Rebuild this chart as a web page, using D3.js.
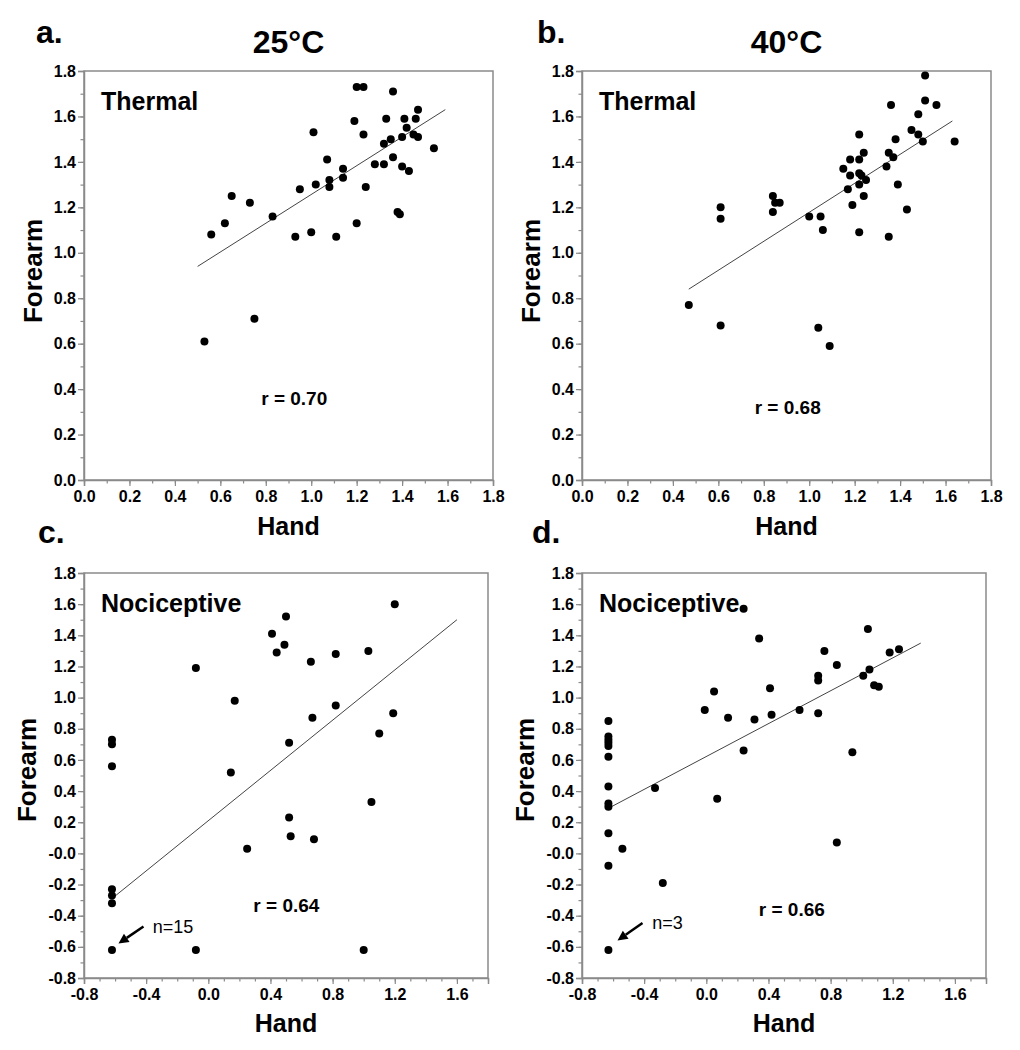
<!DOCTYPE html>
<html>
<head>
<meta charset="utf-8">
<script src="https://cdn.jsdelivr.net/npm/d3@7"></script>
<style>
  html, body { margin: 0; padding: 0; background: #ffffff; }
  text { font-family: "Liberation Sans", Arial, sans-serif; }
</style>
</head>
<body>
<script>
// ---------------- DATA ----------------
const panelLetters = ["a.", "b.", "c.", "d."];
const columnTitles = ["25\u00B0C", "40\u00B0C"];
const modalityLabels = ["Thermal", "Thermal", "Nociceptive", "Nociceptive"];
const rLabels = ["r = 0.70", "r = 0.68", "r = 0.64", "r = 0.66"];
const nLabels = ["n=15", "n=3"];
const xAxisTitle = "Hand";
const yAxisTitle = "Forearm";

// Panel a: Thermal, 25°C
const aHand =    [0.56,0.62,0.65,0.73,0.83,0.93,0.95,1.00,1.01,1.02,1.07,1.08,1.08,1.11,1.14,1.14,1.19,1.20,1.23,1.20,1.23,1.24,1.28,1.32,1.32,1.33,1.35,1.36,1.36,1.38,1.39,1.40,1.40,1.41,1.42,1.43,1.45,1.46,1.47,1.47,1.54,0.53,0.75];
const aForearm = [1.08,1.13,1.25,1.22,1.16,1.07,1.28,1.09,1.53,1.30,1.41,1.32,1.29,1.07,1.37,1.33,1.58,1.73,1.73,1.13,1.52,1.29,1.39,1.39,1.48,1.59,1.50,1.71,1.42,1.18,1.17,1.38,1.51,1.59,1.55,1.36,1.52,1.59,1.51,1.63,1.46,0.61,0.71];
const aFitHand = [0.50, 1.59];
const aFitForearm = [0.94, 1.63];

// Panel b: Thermal, 40°C
const bHand =    [0.61,0.61,0.84,0.84,0.85,0.87,1.00,1.05,1.06,1.15,1.17,1.18,1.18,1.19,1.22,1.22,1.22,1.22,1.22,1.23,1.24,1.24,1.25,1.34,1.35,1.35,1.36,1.37,1.38,1.39,1.43,1.45,1.48,1.48,1.50,1.51,1.51,1.56,1.64,0.47,0.61,1.04,1.09];
const bForearm = [1.20,1.15,1.25,1.18,1.22,1.22,1.16,1.16,1.10,1.37,1.28,1.41,1.34,1.21,1.52,1.41,1.35,1.30,1.09,1.34,1.44,1.25,1.32,1.38,1.07,1.44,1.65,1.42,1.50,1.30,1.19,1.54,1.61,1.52,1.49,1.78,1.67,1.65,1.49,0.77,0.68,0.67,0.59];
const bFitHand = [0.47, 1.63];
const bFitForearm = [0.84, 1.58];

// Panel c: Nociceptive, 25°C
const cHand =    [-0.62,-0.62,-0.62,-0.08,0.145,0.17,0.41,0.44,0.49,0.50,0.52,0.66,0.67,0.82,0.82,1.03,1.10,1.19,1.20,0.52,0.53,0.68,0.25,1.05,-0.62,-0.62,-0.62,-0.62,-0.08,1.00];
const cForearm = [0.73,0.70,0.56,1.19,0.52,0.98,1.41,1.29,1.34,1.52,0.71,1.23,0.87,1.28,0.95,1.30,0.77,0.90,1.60,0.23,0.11,0.09,0.03,0.33,-0.23,-0.27,-0.32,-0.62,-0.62,-0.62];
const cFitHand = [-0.62, 1.60];
const cFitForearm = [-0.29, 1.50];

// Panel d: Nociceptive, 40°C
const dHand =    [-0.63,-0.63,-0.63,-0.63,-0.63,-0.63,-0.63,-0.01,0.05,0.14,0.24,0.24,0.31,0.34,0.41,0.42,0.60,0.72,0.72,0.72,0.76,0.84,0.94,1.01,1.04,1.05,1.08,1.11,1.18,1.24,-0.33,-0.63,-0.63,0.07,-0.63,-0.54,0.84,-0.63,-0.28,-0.63];
const dForearm = [0.85,0.75,0.73,0.71,0.69,0.62,0.43,0.92,1.04,0.87,1.57,0.66,0.86,1.38,1.06,0.89,0.92,0.90,1.14,1.11,1.30,1.21,0.65,1.14,1.44,1.18,1.08,1.07,1.29,1.31,0.42,0.32,0.30,0.35,0.13,0.03,0.07,-0.08,-0.19,-0.62];
const dFitHand = [-0.61, 1.38];
const dFitForearm = [0.30, 1.35];

// Tick values and labels
const thermalTickValues = [0.0,0.2,0.4,0.6,0.8,1.0,1.2,1.4,1.6,1.8];
const thermalTickLabels = ["0.0","0.2","0.4","0.6","0.8","1.0","1.2","1.4","1.6","1.8"];
const nociXTickValues = [-0.8,-0.4,0.0,0.4,0.8,1.2,1.6];
const nociXTickLabels = ["-0.8","-0.4","0.0","0.4","0.8","1.2","1.6"];
const nociYTickValues = [-0.8,-0.6,-0.4,-0.2,0.0,0.2,0.4,0.6,0.8,1.0,1.2,1.4,1.6,1.8];
const nociYTickLabels = ["-0.8","-0.6","-0.4","-0.2","-0.0","0.2","0.4","0.6","0.8","1.0","1.2","1.4","1.6","1.8"];

// ---------------- DRAW ----------------
const W = 1020, H = 1050;
const svg = d3.select("body").append("svg").attr("width", W).attr("height", H);
const FONT = "'Liberation Sans', Arial, sans-serif";
const AXIS_COLOR = "#8a8a8a";

const panels = [
  { letter: panelLetters[0], title: columnTitles[0], label: modalityLabels[0], r: rLabels[0],
    hand: aHand, fore: aForearm, fitH: aFitHand, fitF: aFitForearm,
    left: 84, right: 493, top: 71, bottom: 480, dom: [0, 1.8],
    xt: thermalTickValues, xl: thermalTickLabels, yt: thermalTickValues, yl: thermalTickLabels,
    letterPos: [36, 43], rPos: [0.78, 0.33], yTitleX: 42, yTitleY: 271, xTitleY: 535 },
  { letter: panelLetters[1], title: columnTitles[1], label: modalityLabels[1], r: rLabels[1],
    hand: bHand, fore: bForearm, fitH: bFitHand, fitF: bFitForearm,
    left: 582, right: 991, top: 71, bottom: 480, dom: [0, 1.8],
    xt: thermalTickValues, xl: thermalTickLabels, yt: thermalTickValues, yl: thermalTickLabels,
    letterPos: [537, 43], rPos: [0.76, 0.29], yTitleX: 540, yTitleY: 271, xTitleY: 535 },
  { letter: panelLetters[2], title: null, label: modalityLabels[2], r: rLabels[2],
    hand: cHand, fore: cForearm, fitH: cFitHand, fitF: cFitForearm,
    left: 84, right: 488, top: 573, bottom: 978, dom: [-0.8, 1.8],
    xt: nociXTickValues, xl: nociXTickLabels, yt: nociYTickValues, yl: nociYTickLabels,
    letterPos: [38, 543], rPos: [0.29, -0.376], yTitleX: 36, yTitleY: 770, xTitleY: 1032,
    n: nLabels[0], nText: [152.7, 933], arrow: [[143.5, 926.5], [118.5, 943.5]] },
  { letter: panelLetters[3], title: null, label: modalityLabels[3], r: rLabels[3],
    hand: dHand, fore: dForearm, fitH: dFitHand, fitF: dFitForearm,
    left: 582, right: 986, top: 573, bottom: 978, dom: [-0.8, 1.8],
    xt: nociXTickValues, xl: nociXTickLabels, yt: nociYTickValues, yl: nociYTickLabels,
    letterPos: [532, 543], rPos: [0.338, -0.404], yTitleX: 534, yTitleY: 770, xTitleY: 1032,
    n: nLabels[1], nText: [652.3, 929.3], arrow: [[642.5, 923], [617.5, 940.5]] }
];

function minorTicks(dom) {
  const out = [];
  for (let i = Math.round(dom[0] * 10); i <= Math.round(dom[1] * 10); i++) out.push(i / 10);
  return out;
}

panels.forEach(p => {
  const g = svg.append("g");
  const x = d3.scaleLinear().domain(p.dom).range([p.left, p.right]);
  const y = d3.scaleLinear().domain(p.dom).range([p.bottom, p.top]);
  const cx = (p.left + p.right) / 2;

  // frame
  g.append("rect")
    .attr("x", p.left).attr("y", p.top)
    .attr("width", p.right - p.left).attr("height", p.bottom - p.top)
    .attr("fill", "none").attr("stroke", AXIS_COLOR).attr("stroke-width", 1.5);

  // minor ticks
  const minors = minorTicks(p.dom);
  const yMinor = g.append("g").attr("transform", `translate(${p.left},0)`)
    .call(d3.axisLeft(y).tickValues(minors).tickSize(3.5).tickFormat(""));
  const xMinor = g.append("g").attr("transform", `translate(0,${p.bottom})`)
    .call(d3.axisBottom(x).tickValues(minors).tickSize(3.5).tickFormat(""));
  [yMinor, xMinor].forEach(a => {
    a.select(".domain").remove();
    a.selectAll("line").attr("stroke", AXIS_COLOR).attr("stroke-width", 1.2);
  });

  // major ticks
  const yAx = g.append("g").attr("transform", `translate(${p.left},0)`)
    .call(d3.axisLeft(y).tickValues(p.yt).tickSize(6).tickPadding(2)
      .tickFormat((d, i) => p.yl[i]));
  const xAx = g.append("g").attr("transform", `translate(0,${p.bottom})`)
    .call(d3.axisBottom(x).tickValues(p.xt).tickSize(6).tickPadding(5)
      .tickFormat((d, i) => p.xl[i]));
  [yAx, xAx].forEach(a => {
    a.select(".domain").attr("stroke", AXIS_COLOR).attr("stroke-width", 1.5);
    a.selectAll("line").attr("stroke", AXIS_COLOR).attr("stroke-width", 1.2);
    a.selectAll("text").attr("fill", "#000").attr("font-family", FONT)
      .attr("font-size", 16).attr("font-weight", "bold");
  });

  // regression line
  g.append("line")
    .attr("x1", x(p.fitH[0])).attr("y1", y(p.fitF[0]))
    .attr("x2", x(p.fitH[1])).attr("y2", y(p.fitF[1]))
    .attr("stroke", "#444").attr("stroke-width", 1);

  // points
  g.selectAll("circle.pt").data(p.hand.map((h, i) => [h, p.fore[i]]))
    .join("circle").attr("class", "pt")
    .attr("cx", d => x(d[0])).attr("cy", d => y(d[1]))
    .attr("r", 4).attr("fill", "#000");

  // modality label
  g.append("text").attr("x", p.left + 17).attr("y", p.top + 39)
    .attr("font-size", 25).attr("font-weight", "bold").text(p.label);

  // r label
  g.append("text").attr("x", x(p.rPos[0])).attr("y", y(p.rPos[1]))
    .attr("font-size", 19).attr("font-weight", "bold").text(p.r);

  // panel letter
  g.append("text").attr("x", p.letterPos[0]).attr("y", p.letterPos[1])
    .attr("font-size", 32).attr("font-weight", "bold").text(p.letter);

  // column title
  if (p.title) {
    g.append("text").attr("x", cx).attr("y", 53).attr("text-anchor", "middle")
      .attr("font-size", 32).attr("font-weight", "bold").text(p.title);
  }

  // axis titles
  g.append("text").attr("x", cx).attr("y", p.xTitleY).attr("text-anchor", "middle")
    .attr("font-size", 25).attr("font-weight", "bold").text(xAxisTitle);
  g.append("text")
    .attr("transform", `translate(${p.yTitleX},${p.yTitleY}) rotate(-90)`)
    .attr("text-anchor", "middle")
    .attr("font-size", 26).attr("font-weight", "bold").text(yAxisTitle);

  // n annotation with arrow
  if (p.n) {
    g.append("text").attr("x", p.nText[0]).attr("y", p.nText[1])
      .attr("font-size", 18).attr("font-weight", "normal").text(p.n);
    const [s, t] = p.arrow;
    const dx = t[0] - s[0], dy = t[1] - s[1];
    const len = Math.hypot(dx, dy);
    const ux = dx / len, uy = dy / len;
    const headL = 10, headW = 5;
    const bx = t[0] - ux * headL, by = t[1] - uy * headL;
    g.append("line").attr("x1", s[0]).attr("y1", s[1]).attr("x2", bx).attr("y2", by)
      .attr("stroke", "#000").attr("stroke-width", 2.5);
    g.append("path")
      .attr("d", `M${t[0]},${t[1]} L${bx - uy * headW},${by + ux * headW} L${bx + uy * headW},${by - ux * headW} Z`)
      .attr("fill", "#000");
  }
});
</script>
</body>
</html>
